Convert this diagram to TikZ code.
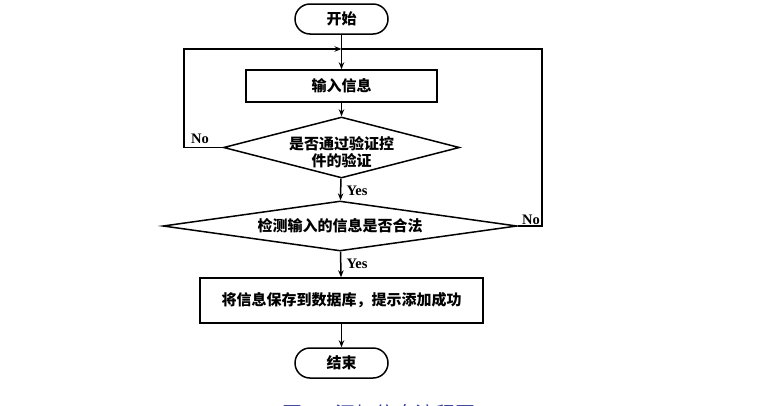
\documentclass[tikz,border=0pt]{standalone}
\usepackage{fontspec}
\newfontfamily\cjk{Noto Sans CJK SC}
\newfontfamily\lat{Liberation Serif}
\usetikzlibrary{shapes.geometric,arrows.meta}
\definecolor{capblue}{RGB}{50,60,150}
\tikzset{
  cjktext/.style={font=\cjk\bfseries\fontsize{15}{17}\selectfont},
  base/.style={draw, line width=1.5pt, cjktext, inner sep=0pt},
  term/.style={base, rectangle, rounded corners=15pt, minimum width=93pt, minimum height=30pt},
  proc/.style={base, rectangle},
  dec/.style={base, diamond, align=center},
  conn/.style={line width=1.5pt},
  arr/.style={conn, -{Stealth[length=7pt,width=5.5pt]}},
  lbl/.style={font=\lat\bfseries\fontsize{14.5}{16}\selectfont, inner sep=0pt},
}
\begin{document}
\begin{tikzpicture}[x=1pt,y=-1pt]
\useasboundingbox[fill=white] (0,0) rectangle (757,405);
\node[term] (start) at (341.5,19) {开始};
\node[proc, minimum width=191pt, minimum height=32pt] (in) at (341.5,86) {输入信息};
\node[dec, minimum width=236pt, minimum height=61pt, aspect=3.87] (d1) at (341.5,147.5) {};
\node[cjktext, align=center, inner sep=0pt] (d1t) at (341.5,152) {是否通过验证控\\件的验证};
\node[dec, minimum width=354pt, minimum height=50pt, aspect=7.08] (d2) at (340,226) {检测输入的信息是否合法};
\node[proc, minimum width=283pt, minimum height=45pt] (save) at (341.5,300.5) {将信息保存到数据库，提示添加成功};
\node[term] (end) at (341.5,363) {结束};
\coordinate (jn) at (341.5,49);
\coordinate (lx) at (184,49);
\coordinate (rx) at (542,49);
\draw[arr] (start) -- (in);
\draw[arr] (in) -- (d1);
\draw[arr] (d1) -- (d2);
\draw[arr] (d2) -- (save);
\draw[arr] (save) -- (end);
\draw[arr] (d1.west) -| (lx) -- (jn);
\draw[conn] (d2.east) -| (rx) -- (jn);
\node[lbl] (no1) at (200,139) {No};
\node[lbl] (no2) at (531,220) {No};
\node[lbl] (yes1) at (357,191) {Yes};
\node[lbl] (yes2) at (357,264) {Yes};
\begin{scope}
\clip (0,0) rectangle (757,405);
\node[font=\cjk\fontsize{20}{22}\selectfont, text=capblue, anchor=base east, inner sep=0pt] (cap) at (476,421) {图4-2 添加信息流程图};
\end{scope}
\end{tikzpicture}
\end{document}
